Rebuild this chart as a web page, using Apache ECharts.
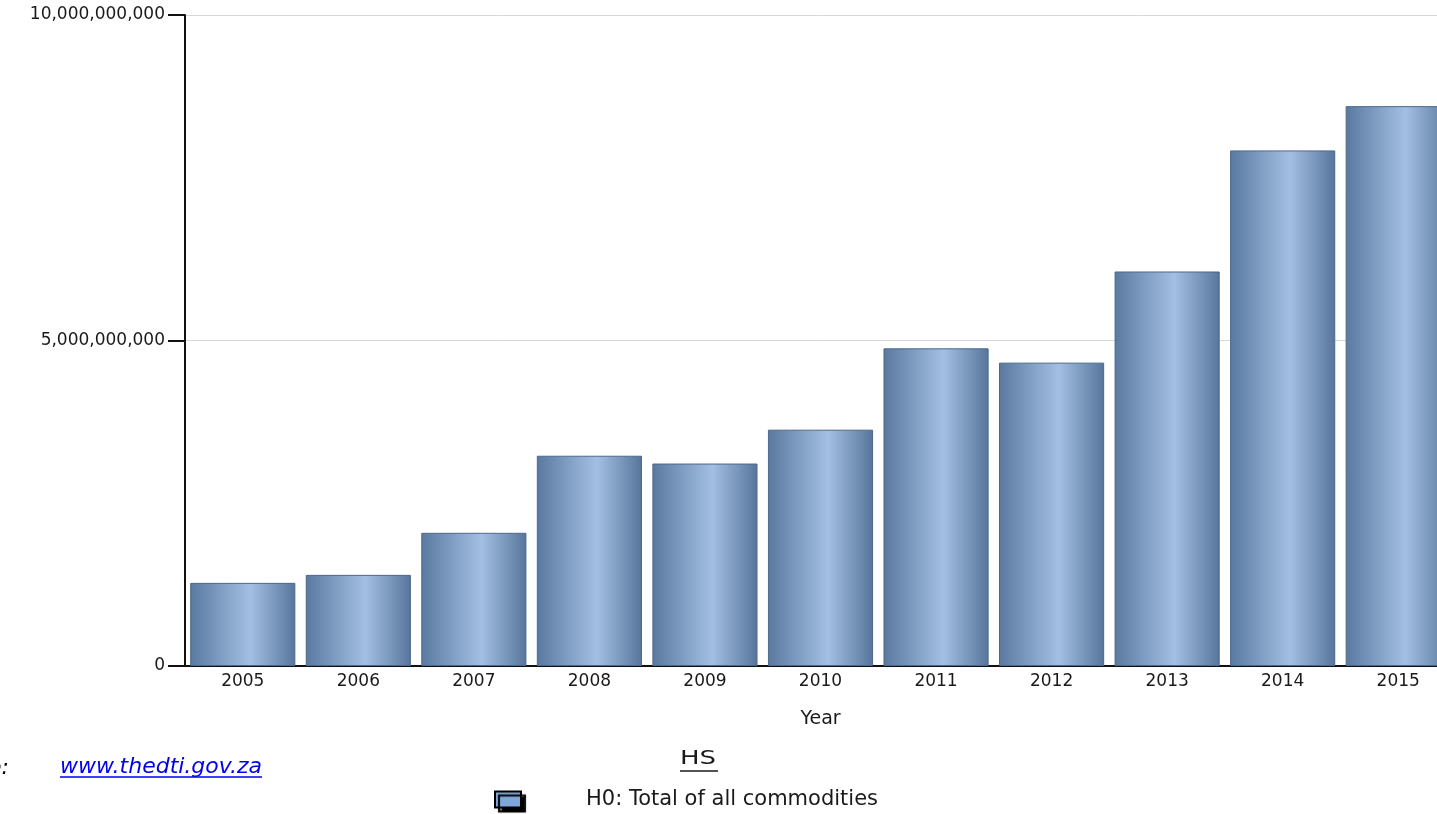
<!DOCTYPE html>
<html><head><meta charset="utf-8">
<script src="https://cdn.jsdelivr.net/npm/echarts@6/dist/echarts.min.js"></script>
<style>html,body{margin:0;padding:0;background:#fff;overflow:hidden;width:1437px;height:814px}#c{width:1462px;height:814px}</style>
</head><body><div id="c"></div>
<script>
const years = ['2005','2006','2007','2008','2009','2010','2011','2012','2013','2014','2015'];
const values = [1277000000,1400000000,2046000000,3230000000,3110000000,3630000000,4880000000,4660000000,6060000000,7920000000,8600000000];
const yTicks = [0, 5000000000, 10000000000];
const seriesName = 'H0: Total of all commodities';

const chart = echarts.init(document.getElementById('c'));
const font = 'DejaVu Sans, Verdana, sans-serif';
chart.setOption({
  animation:false,
  grid:{left:185, top:15, width:1271, height:651, containLabel:false},
  xAxis:{type:'category', data:years, name:'Year', nameLocation:'middle', nameGap:44,
    nameTextStyle:{fontFamily:font, fontSize:19, color:'#1a1a1a'},
    axisLine:{lineStyle:{color:'#111', width:2}}, axisTick:{show:false},
    axisLabel:{fontFamily:font, fontSize:17, color:'#1a1a1a', margin:7}},
  yAxis:{type:'value', min:yTicks[0], max:yTicks[yTicks.length-1], interval:yTicks[1]-yTicks[0],
    axisLine:{show:true, lineStyle:{color:'#111', width:2}},
    axisTick:{show:true, length:17, lineStyle:{color:'#111', width:2}},
    splitLine:{lineStyle:{color:'#d8d8d8', width:1}},
    axisLabel:{fontFamily:font, fontSize:17, color:'#1a1a1a', margin:20, padding:[5,0,0,0],
      formatter:v=>v.toString().replace(/\B(?=(\d{3})+(?!\d))/g, ',')}},
  legend:{left:494, top:789, itemWidth:26, itemHeight:16, icon:'rect', padding:0,
    data:[{name:seriesName, itemStyle:{color:'#7ea6d8', borderColor:'#000', borderWidth:2, shadowColor:'#000', shadowOffsetX:4, shadowOffsetY:4, shadowBlur:1}}],
    textStyle:{fontFamily:font, fontSize:21, color:'#1a1a1a', padding:[2,0,0,60]}},
  series:[{type:'bar', name:seriesName, data:values, barCategoryGap:'9%',
    itemStyle:{borderColor:'#4d688b', borderWidth:1,
      color:new echarts.graphic.LinearGradient(0,0,1,0,[
        {offset:0, color:'#5a79a0'},{offset:0.57, color:'#a3bfe3'},{offset:1, color:'#57759b'}])}}],
  graphic:[
    {type:'text', x:9, y:757, style:{text:'Source:', font:'italic 22px '+font, fill:'#000', align:'right'}},
    {type:'text', x:60, y:756, style:{text:'www.thedti.gov.za', font:'italic 22px '+font, fill:'#0000ee'}},
    {type:'line', shape:{x1:60, y1:777, x2:262, y2:777}, style:{stroke:'#0000ee', lineWidth:1.5}},
    {type:'text', x:680, y:749, scaleX:1.3, style:{text:'HS', font:'20px '+font, fill:'#1a1a1a'}},
    {type:'line', shape:{x1:680, y1:771, x2:718, y2:771}, style:{stroke:'#1a1a1a', lineWidth:1.5}}
  ]
});
</script></body></html>
